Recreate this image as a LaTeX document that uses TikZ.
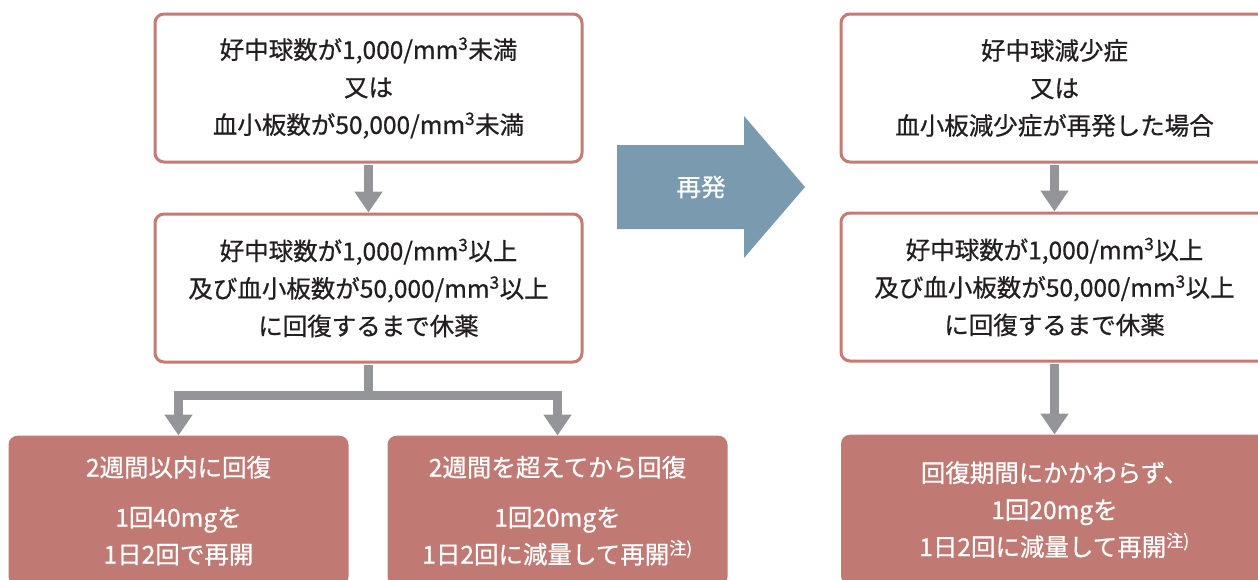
\documentclass[tikz,border=0pt]{standalone}
\usepackage{fontspec}
\setmainfont{Noto Sans CJK JP}[FakeBold=0.7, AutoFakeBold=0.7]
\usetikzlibrary{arrows.meta, positioning}
\definecolor{waku}{HTML}{C57B74}
\definecolor{kekka}{HTML}{C07A73}
\definecolor{yajirushi}{HTML}{939598}
\definecolor{saihatsuao}{HTML}{7A9AAF}
\definecolor{moji}{HTML}{231F20}
\tikzset{
  joken/.style={draw=waku, line width=3pt, fill=white, rounded corners=9pt, minimum width=427pt, minimum height=148pt, align=center, text=moji, inner sep=0pt, font=\fontsize{24.5}{37.5}\selectfont\bfseries},
  kekkabox/.style={fill=kekka, rounded corners=9pt, minimum width=340pt, minimum height=150pt, align=center, text=white, inner sep=0pt, font=\fontsize{24.5}{37}\selectfont\bfseries},
  nagare/.style={draw=yajirushi, line width=9pt, shorten <=1.5pt, -{Triangle[width=27pt,length=21pt]}}
}

\begin{document}
\begin{tikzpicture}[x=1pt, y=-1pt]
            \useasboundingbox (0,0) rectangle (1258,579);
            \clip (0,0) rectangle (1258,579);

            \node[joken] (kijun) at (368.5,88) {好中球数が1,000/mm\textsuperscript{3}未満\\又は\\血小板数が50,000/mm\textsuperscript{3}未満};
            \node[joken, below=49pt of kijun] (kyuyaku) {好中球数が1,000/mm\textsuperscript{3}以上\\及び血小板数が50,000/mm\textsuperscript{3}以上\\に回復するまで休薬};
            \node[kekkabox, below=72pt of kyuyaku, xshift=-190pt] (naika) {2週間以内に回復\\[13pt]1回40mgを\\1日2回で再開};
            \node[kekkabox, below=72pt of kyuyaku, xshift=189pt] (koete) {2週間を超えてから回復\\[13pt]1回20mgを\\1日2回に減量して再開\textsuperscript{注)}};
            \draw[nagare] (kijun) -- (kyuyaku);
            \draw[nagare] (kyuyaku.south) -- ++(0,32) -| (naika.north);
            \draw[nagare] (kyuyaku.south) -- ++(0,32) -| (koete.north);

            \fill[saihatsuao] (617,145) -- (744,145) -- (744,116) -- (805,187) -- (744,258) -- (744,229) -- (617,229) -- cycle;
            \node[text=white, font=\fontsize{24.5}{27}\selectfont\bfseries] (saihatsu) at (701,187) {再発};

            \node[joken, right=256pt of kijun] (saihatsu-joken) {好中球減少症\\又は\\血小板減少症が再発した場合};
            \node[joken, below=48pt of saihatsu-joken] (kyuyaku-2) {好中球数が1,000/mm\textsuperscript{3}以上\\及び血小板数が50,000/mm\textsuperscript{3}以上\\に回復するまで休薬};
            \node[kekkabox, minimum width=427pt, below=72pt of kyuyaku-2] (genryo) {回復期間にかかわらず、\\1回20mgを\\1日2回に減量して再開\textsuperscript{注)}};
            \draw[nagare] (saihatsu-joken) -- (kyuyaku-2);
            \draw[nagare] (kyuyaku-2) -- (genryo);
      \end{tikzpicture}
\end{document}
